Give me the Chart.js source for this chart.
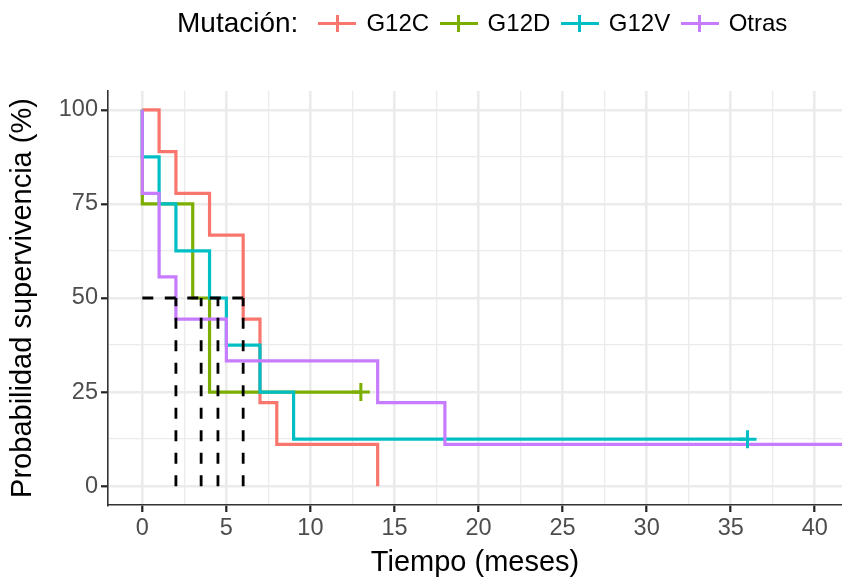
<!DOCTYPE html>
<html lang="es">
<head>
<meta charset="utf-8">
<title>Supervivencia según mutación KRAS</title>
<script src="https://cdn.jsdelivr.net/npm/chart.js@4.4.1/dist/chart.umd.min.js"></script>
<style>
  html, body { margin: 0; padding: 0; background: #fff; }
  #wrap { position: relative; width: 842px; height: 578px; overflow: hidden; }
  #km { display: block; }
  #legend {
    position: absolute; left: 177px; top: 0; height: 46px;
    display: flex; align-items: center; white-space: nowrap;
    font-family: "Liberation Sans", Arial, sans-serif; color: #000;
  }
  #legend .title { font-size: 28px; margin-right: 20px; }
  #legend .key { position: relative; width: 38px; height: 17px; margin-right: 10px; }
  #legend .key::before {
    content: ""; position: absolute; left: 0; right: 0; top: 7px; height: 3px; background: var(--c);
  }
  #legend .key::after {
    content: ""; position: absolute; left: 17.5px; width: 3px; top: 0; bottom: 0; background: var(--c);
  }
  #legend .lbl { font-size: 24px; margin-right: 10.5px; }
</style>
</head>
<body>
<div id="wrap">
  <canvas id="km" width="842" height="578"></canvas>
  <div id="legend"></div>
</div>
<script>
"use strict";

const GROUPS = ["G12C", "G12D", "G12V", "Otras"];
const COLORS = ["#F8766D", "#7CAE00", "#00BFC4", "#C77CFF"];

// escalones de Kaplan-Meier: tiempo (meses) y supervivencia (%)
const TIME_G12C = [0, 1, 2, 4, 6, 7, 8, 14];
const SURV_G12C = [100, 88.9, 77.8, 66.7, 44.4, 22.2, 11.1, 0];
const TIME_G12D = [0, 0, 3, 4, 13];
const SURV_G12D = [100, 75, 50, 25, 25];
const TIME_G12V = [0, 0, 1, 2, 4, 5, 7, 9, 36];
const SURV_G12V = [100, 87.5, 75, 62.5, 50, 37.5, 25, 12.5, 12.5];
const TIME_OTRAS = [0, 0, 1, 2, 5, 14, 18, 42];
const SURV_OTRAS = [100, 77.8, 55.6, 44.4, 33.3, 22.2, 11.1, 11.1];

// censuras (+)
const CENSOR_GROUP = ["G12D", "G12V"];
const CENSOR_TIME = [13, 36];
const CENSOR_SURV = [25, 12.5];

// medianas de supervivencia (Otras, G12D, G12V, G12C)
const MEDIAN_TIME = [2, 3.5, 4.5, 6];
const MEDIAN_LEVEL = 50;

const X_TICKS = [0, 5, 10, 15, 20, 25, 30, 35, 40];
const X_MINOR = [2.5, 7.5, 12.5, 17.5, 22.5, 27.5, 32.5, 37.5];
const Y_TICKS = [0, 25, 50, 75, 100];
const Y_MINOR = [12.5, 37.5, 62.5, 87.5];

const X_MIN = -2.04, X_MAX = 41.62;
const Y_MIN = -5, Y_MAX = 105;

const TIMES = [TIME_G12C, TIME_G12D, TIME_G12V, TIME_OTRAS];
const SURVS = [SURV_G12C, SURV_G12D, SURV_G12V, SURV_OTRAS];

function zip(xs, ys) { return xs.map((x, i) => ({ x, y: ys[i] })); }

Chart.defaults.font.family = '"Liberation Sans", Arial, sans-serif';

const datasets = [];

GROUPS.forEach((g, i) => {
  datasets.push({
    label: g,
    data: zip(TIMES[i], SURVS[i]),
    borderColor: COLORS[i],
    borderWidth: 3.2,
    borderJoinStyle: "miter",
    stepped: true,
    pointRadius: 0,
    fill: false,
    order: 10 - i,
  });
});

CENSOR_GROUP.forEach((g, k) => {
  const i = GROUPS.indexOf(g);
  datasets.push({
    type: "scatter",
    label: g + " censura",
    data: [{ x: CENSOR_TIME[k], y: CENSOR_SURV[k] }],
    pointStyle: "cross",
    pointRadius: 9,
    pointBorderWidth: 3,
    borderColor: COLORS[i],
    backgroundColor: COLORS[i],
    order: 5 - i,
  });
});

// líneas discontinuas de la mediana
const dashStyle = {
  borderColor: "#000",
  borderWidth: 2.8,
  borderDash: [11, 11.5],
  borderCapStyle: "butt",
  pointRadius: 0,
  fill: false,
  order: 0,
};
datasets.push(Object.assign({
  label: "mediana",
  data: [{ x: 0, y: MEDIAN_LEVEL }, { x: Math.max(...MEDIAN_TIME), y: MEDIAN_LEVEL }],
}, dashStyle));
MEDIAN_TIME.forEach(m => {
  datasets.push(Object.assign({
    label: "mediana " + m,
    data: [{ x: m, y: 0 }, { x: m, y: MEDIAN_LEVEL }],
  }, dashStyle));
});

function gridFor(majors) {
  return {
    color: "#EBEBEB",
    lineWidth: ctx => majors.includes(ctx.tick.value) ? 2.6 : 1.3,
    tickLength: 7,
    tickWidth: 2.2,
    tickColor: ctx => majors.includes(ctx.tick.value) ? "#222" : "rgba(0,0,0,0)",
  };
}

new Chart(document.getElementById("km"), {
  type: "line",
  data: { datasets },
  options: {
    responsive: false,
    animation: false,
    events: [],
    layout: { autoPadding: false, padding: { top: 91, left: 0, right: 0, bottom: 0 } },
    plugins: { legend: { display: false }, tooltip: { enabled: false } },
    scales: {
      x: {
        type: "linear",
        min: X_MIN,
        max: X_MAX,
        bounds: "data",
        afterBuildTicks: s => {
          s.ticks = [...X_TICKS, ...X_MINOR].sort((a, b) => a - b).map(v => ({ value: v }));
        },
        afterFit: s => {
          s.height = 73;
          s.paddingLeft = 0;
          s.paddingRight = 0;
        },
        ticks: {
          autoSkip: false,
          maxRotation: 0,
          color: "#4D4D4D",
          font: { size: 23.5 },
          padding: 2,
          callback: v => X_TICKS.includes(v) ? String(v) : "",
        },
        grid: gridFor(X_TICKS),
        border: { display: true, color: "#333", width: 1.6 },
        title: {
          display: true,
          text: "Tiempo (meses)",
          color: "#000",
          font: { size: 29, lineHeight: 1 },
          padding: { top: 0, bottom: 1 },
        },
      },
      y: {
        type: "linear",
        min: Y_MIN,
        max: Y_MAX,
        bounds: "data",
        afterBuildTicks: s => {
          s.ticks = [...Y_TICKS, ...Y_MINOR].sort((a, b) => a - b).map(v => ({ value: v }));
        },
        afterFit: s => {
          s.width = 108;
          s.paddingTop = 0;
          s.paddingBottom = 0;
        },
        ticks: {
          autoSkip: false,
          color: "#4D4D4D",
          font: { size: 23.5 },
          padding: 3,
          callback: v => Y_TICKS.includes(v) ? String(v) : "",
        },
        grid: gridFor(Y_TICKS),
        border: { display: true, color: "#333", width: 1.6 },
        title: {
          display: true,
          text: "Probabilidad supervivencia (%)",
          color: "#000",
          font: { size: 29 },
          padding: { top: 5.5, bottom: 0 },
        },
      },
    },
  },
});

// leyenda superior
const legend = document.getElementById("legend");
legend.innerHTML = '<span class="title">Mutación:</span>' +
  GROUPS.map((g, i) =>
    `<span class="key" style="--c:${COLORS[i]}"></span><span class="lbl">${g}</span>`
  ).join("");
</script>
</body>
</html>
